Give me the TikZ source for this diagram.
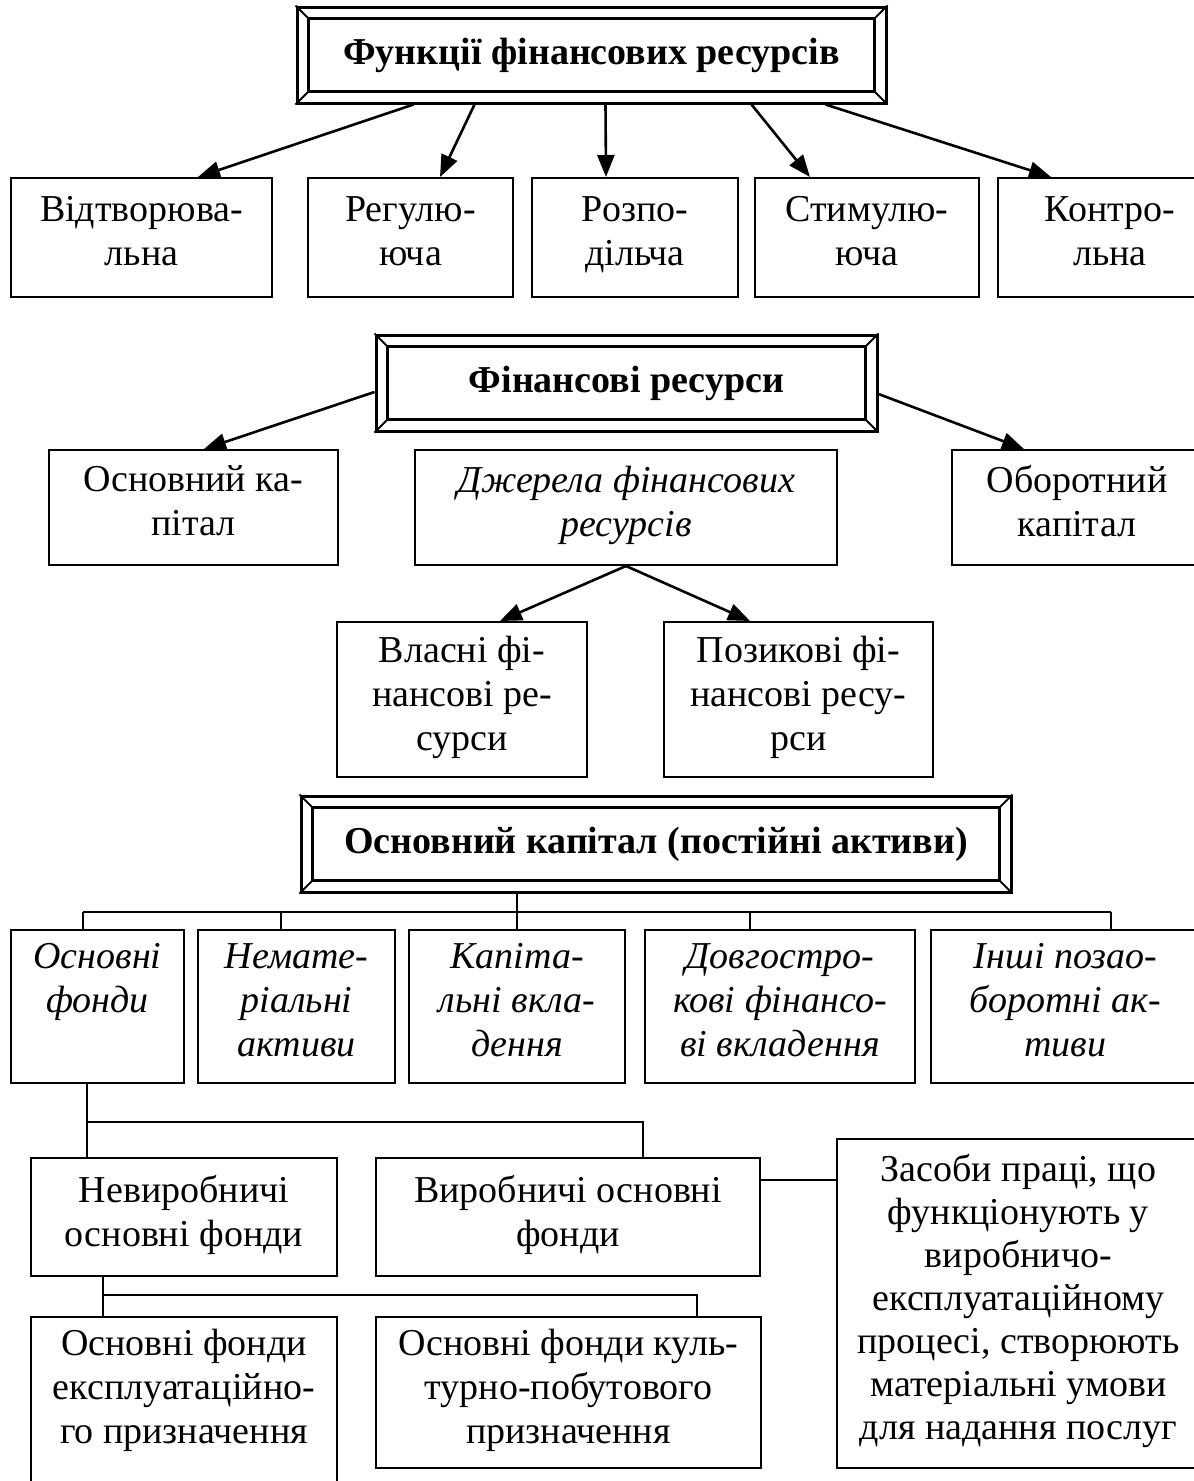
\documentclass[tikz,border=0pt]{standalone}
\usepackage{fontspec}
\setmainfont{Liberation Serif}
\usetikzlibrary{arrows.meta,calc}
\newcommand{\bevelframe}[1]{%
  \draw[line width=2.4pt] ([shift={(13pt,-13pt)}]#1.north west) rectangle ([shift={(-13pt,13pt)}]#1.south east);
  \draw[line width=1.8pt] (#1.north west) -- ++(13pt,-13pt)
    (#1.north east) -- ++(-13pt,-13pt)
    (#1.south west) -- ++(13pt,13pt)
    (#1.south east) -- ++(-13pt,13pt);
}
\begin{document}
\begin{tikzpicture}[x=1pt,y=1pt,
  box/.style={draw, line width=2pt, inner sep=0pt, align=center, font=\fontsize{38pt}{44pt}\selectfont,
    execute at begin node=\strut, execute at end node=\strut},
  ibox/.style={box, font=\fontsize{38pt}{44pt}\selectfont\itshape},
  tbox/.style={draw, line width=3pt, inner sep=0pt, align=center, minimum height=96pt, font=\fontsize{38pt}{44pt}\selectfont\bfseries},
  arr/.style={line width=2.6pt, -{Triangle[length=22pt,width=17pt]}},
  tree/.style={line width=2pt},
]
\path[use as bounding box] (0,0) rectangle (1194,-1481);
\clip (0,0) rectangle (1194,-1481);

% ---- Block 1
\node[tbox, minimum width=589pt] (T1) at (591.5,-55) {Функції фінансових ресурсів};
\bevelframe{T1}
\node[box, minimum width=261pt, minimum height=119pt] (r1a) at (141.5,-237.5) {Відтворюва-\\льна};
\node[box, minimum width=205pt, minimum height=119pt] (r1b) at (410.5,-237.5) {Регулю-\\юча};
\node[box, minimum width=206pt, minimum height=119pt] (r1c) at (635,-237.5) {Розпо-\\дільча};
\node[box, minimum width=224pt, minimum height=119pt] (r1d) at (867,-237.5) {Стимулю-\\юча};
\node[box, minimum width=224pt, minimum height=119pt] (r1e) at (1110,-237.5) {Контро-\\льна};
\draw[arr] ([xshift=118pt]T1.south west) -- ([xshift=188pt]r1a.north west);
\draw[arr] ([xshift=179pt]T1.south west) -- ([xshift=133pt]r1b.north west);
\draw[arr] ([xshift=310pt]T1.south west) -- ([xshift=75pt]r1c.north west);
\draw[arr] ([xshift=456pt]T1.south west) -- ([xshift=56pt]r1d.north west);
\draw[arr] ([xshift=530pt]T1.south west) -- ([xshift=54pt]r1e.north west);

% ---- Block 2
\node[tbox, minimum width=501pt] (T2) at (626.5,-383) {Фінансові ресурси};
\bevelframe{T2}
\node[box, minimum width=289pt, minimum height=115pt] (osn) at (193.5,-507.5) {Основний ка-\\пітал};
\node[ibox, minimum width=422pt, minimum height=115pt] (dzh) at (626,-507.5) {Джерела фінансових\\ресурсів};
\node[box, minimum width=250pt, minimum height=115pt] (obo) at (1077,-507.5) {Оборотний\\капітал};
\node[box, minimum width=250pt, minimum height=155pt] (vl) at (462,-699.5) {Власні фі-\\нансові ре-\\сурси};
\node[box, minimum width=269pt, minimum height=155pt] (poz) at (798.5,-699.5) {Позикові фі-\\нансові ресу-\\рси};
\draw[arr] ([yshift=-9pt]T2.west) -- ([xshift=156pt]osn.north west);
\draw[arr] ([yshift=-11pt]T2.east) -- ([xshift=73pt]obo.north west);
\draw[arr] (dzh.south) -- ([xshift=164pt]vl.north west);
\draw[arr] (dzh.south) -- ([xshift=87pt]poz.north west);

% ---- Block 3
\node[tbox, minimum width=710pt] (T3) at (656,-844) {Основний капітал (постійні активи)};
\bevelframe{T3}
\node[ibox, minimum width=173pt, minimum height=153pt] (of) at (97.5,-1006.5) {Основні\\фонди\\\mbox{}};
\node[ibox, minimum width=197pt, minimum height=153pt] (nm) at (296.5,-1006.5) {Немате-\\ріальні\\активи};
\node[ibox, minimum width=216pt, minimum height=153pt] (kp) at (517,-1006.5) {Капіта-\\льні вкла-\\дення};
\node[ibox, minimum width=270pt, minimum height=153pt] (dv) at (780,-1006.5) {Довгостро-\\кові фінансо-\\ві вкладення};
\node[ibox, minimum width=269pt, minimum height=153pt] (in) at (1065.5,-1006.5) {Інші позао-\\боротні ак-\\тиви};
\coordinate (bus1) at (0,-912);
\coordinate (dof) at ([xshift=73pt]of.north west);
\coordinate (dnm) at ([xshift=84pt]nm.north west);
\coordinate (ddv) at ([xshift=106pt]dv.north west);
\coordinate (din) at ([xshift=181pt]in.north west);
\draw[tree] (T3.south -| kp.north) -- (kp.north);
\draw[tree] (dof |- bus1) -- (din |- bus1);
\draw[tree] (dof |- bus1) -- (dof);
\draw[tree] (dnm |- bus1) -- (dnm);
\draw[tree] (ddv |- bus1) -- (ddv);
\draw[tree] (din |- bus1) -- (din);

% ---- Block 4
\node[box, minimum width=306pt, minimum height=118pt] (nev) at (184,-1217) {Невиробничі\\основні фонди};
\node[box, minimum width=384pt, minimum height=118pt] (vyr) at (568,-1217) {Виробничі основні\\фонди};
\node[box, font=\fontsize{38pt}{43pt}\selectfont, minimum width=363pt, minimum height=329pt] (zas) at (1018.5,-1303.5) {Засоби праці, що\\функціонують у\\виробничо-\\експлуатаційному\\процесі, створюють\\матеріальні умови\\для надання послуг};
\coordinate (bus2) at (0,-1122);
\coordinate (dofb) at ([xshift=77pt]of.south west);
\coordinate (dvyr) at ([xshift=268pt]vyr.north west);
\draw[tree] (dofb) -- (dofb |- nev.north);
\draw[tree] (dofb |- bus2) -- (dvyr |- bus2) -- (dvyr);
\draw[tree] ([yshift=37pt]vyr.east) -- ([yshift=37pt]vyr.east -| zas.west);

% ---- Block 5
\node[inner sep=0pt, align=center, font=\fontsize{38pt}{44pt}\selectfont, execute at begin node=\strut, execute at end node=\strut, minimum width=306pt, minimum height=151pt] (eks) at (184,-1392.5) {Основні фонди\\експлуатаційно-\\го призначення};
\coordinate (ekbot) at (0,-1520);
\draw[line width=2pt] (eks.north west) rectangle (eks.east |- ekbot);
\node[box, minimum width=385pt, minimum height=151pt] (kul) at (568.5,-1392.5) {Основні фонди куль-\\турно-побутового\\призначення};
\coordinate (bus3) at (0,-1295);
\coordinate (dnev) at ([xshift=73pt]nev.south west);
\coordinate (dkul) at ([xshift=322pt]kul.north west);
\draw[tree] (dnev) -- (dnev |- eks.north);
\draw[tree] (dnev |- bus3) -- (dkul |- bus3) -- (dkul);
\end{tikzpicture}
\end{document}
